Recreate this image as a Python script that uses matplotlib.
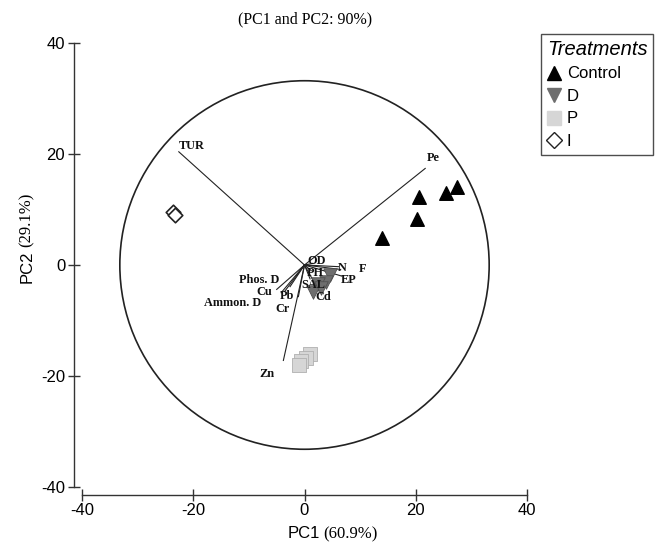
import matplotlib
matplotlib.use('Agg')
import matplotlib.pyplot as plt
from matplotlib.lines import Line2D
from matplotlib.patches import Circle

plt.rcParams['font.family'] = ['Liberation Sans', 'DejaVu Sans']
plt.rcParams['axes.unicode_minus'] = False

# sample scores per treatment
control_x = [20.6, 25.5, 27.4, 20.2, 13.9]
control_y = [12.3, 12.9, 14.0, 8.2, 4.8]
d_x = [4.5, 3.8, 2.5, 1.5, 3.0]
d_y = [-1.8, -3.0, -3.5, -4.8, -4.2]
p_x = [1.0, 0.2, -0.6, -0.9]
p_y = [-16.0, -16.8, -17.3, -18.0]
i_x = [-23.6, -23.2]
i_y = [9.5, 9.0]

# variable loadings (vector tips)
var_names = ['TUR', 'Pe', 'OD', 'N', 'F', 'EP', 'PH', 'SAL', 'Cd',
             'Phos. D', 'Cu', 'Ammon. D', 'Pb', 'Cr', 'Zn']
var_x = [-22.6, 21.7, 1.5, 6.1, 6.5, 6.7, 1.2, 1.0, 2.5,
         -5.0, -4.2, -3.6, -2.6, -1.1, -3.8]
var_y = [20.4, 17.4, 0.3, -0.3, -0.8, -2.0, -1.0, -2.5, -4.5,
         -4.4, -5.0, -4.8, -3.9, -5.7, -17.2]

# where each vector name is written
label_pos = {'TUR': (-20.3, 21.5), 'Pe': (23.1, 19.3), 'OD': (2.2, 0.8),
             'N': (6.7, -0.6), 'F': (10.4, -0.8), 'EP': (8.0, -2.7),
             'PH': (2.0, -1.5), 'SAL': (1.6, -3.6), 'Cd': (3.4, -5.7),
             'Phos. D': (-8.1, -2.7), 'Cu': (-7.3, -4.8), 'Ammon. D': (-12.9, -6.8),
             'Pb': (-3.2, -5.5), 'Cr': (-3.9, -8.0), 'Zn': (-6.7, -19.6)}

W, H = 665, 543
fig = plt.figure(figsize=(W / 100, H / 100), dpi=100)
ax = fig.add_axes([82 / W, 1 - 487 / H, 445 / W, 444 / H])
ax.set_xlim(-40, 40)
ax.set_ylim(-40, 40)

ax.add_patch(Circle((0, 0), 33.2, fill=False, edgecolor='#222222', lw=1.2, zorder=1))

for name, vx, vy in zip(var_names, var_x, var_y):
    ax.plot([0, vx], [0, vy], color='#222222', lw=0.8, zorder=2)

ax.scatter(control_x, control_y, marker='^', s=95, color='black', zorder=3)
ax.scatter(d_x, d_y, marker='v', s=95, color='#6e6e6e', edgecolor='#505050', lw=0.6, zorder=3)
ax.scatter(p_x, p_y, marker='s', s=95, color='#d6d6d6', edgecolor='#b0b0b0', lw=0.6, zorder=3)
ax.scatter(i_x, i_y, marker='D', s=55, facecolor='white', edgecolor='#222222', lw=1.2, zorder=3)

for name in var_names:
    lx, ly = label_pos[name]
    ax.text(lx, ly, name, ha='center', va='center', fontsize=8.8, fontweight='bold',
            family='Liberation Serif', color='#111111', zorder=4)

for s in ['top', 'right']:
    ax.spines[s].set_visible(False)
ax.spines['left'].set_position(('outward', 6.1))
ax.spines['bottom'].set_position(('outward', 5.8))
ax.spines['left'].set_bounds(-40, 40)
ax.spines['bottom'].set_bounds(-40, 40)
for s in ['left', 'bottom']:
    ax.spines[s].set_color('#333333')
    ax.spines[s].set_linewidth(1.0)
ax.set_xticks([-40, -20, 0, 20, 40])
ax.set_yticks([-40, -20, 0, 20, 40])
ax.tick_params(direction='inout', length=9, width=1.0, color='#333333', labelsize=12, pad=1.5)

# mixed-font axis labels and title
fig.text(288 / W, 1 - 534 / H, 'PC1', ha='left', va='center', fontsize=12)
fig.text(323 / W, 1 - 534 / H, '(60.9%)', ha='left', va='center', fontsize=12,
         family='Liberation Serif')
fig.text(27 / W, 1 - 283 / H, 'PC2', ha='center', va='bottom', rotation=90, fontsize=12)
fig.text(27 / W, 1 - 247 / H, '(29.1%)', ha='center', va='bottom', rotation=90, fontsize=12,
         family='Liberation Serif')
fig.text(305 / W, 1 - 19 / H, '(PC1 and PC2: 90%)', ha='center', va='center', fontsize=11.5,
         family='Liberation Serif')

handles = [Line2D([], [], marker='^', ls='', color='black', markersize=10),
           Line2D([], [], marker='v', ls='', color='#6e6e6e', markersize=10),
           Line2D([], [], marker='s', ls='', color='#d6d6d6', markersize=10),
           Line2D([], [], marker='D', ls='', markerfacecolor='white',
                  markeredgecolor='#222222', markersize=8)]
leg = fig.legend(handles, ['Control', 'D', 'P', 'I'], title='Treatments',
                 loc='upper left', bbox_to_anchor=(541 / W, 1 - 34 / H),
                 frameon=True, fancybox=False, edgecolor='#222222', fontsize=12,
                 title_fontproperties={'style': 'italic', 'size': 14.5}, alignment='left',
                 handlelength=0.8, handletextpad=0.4, labelspacing=0.45, borderpad=0.35,
                 borderaxespad=0)
leg.get_frame().set_linewidth(1.0)

plt.savefig('out.png', dpi=100)
plt.close()
